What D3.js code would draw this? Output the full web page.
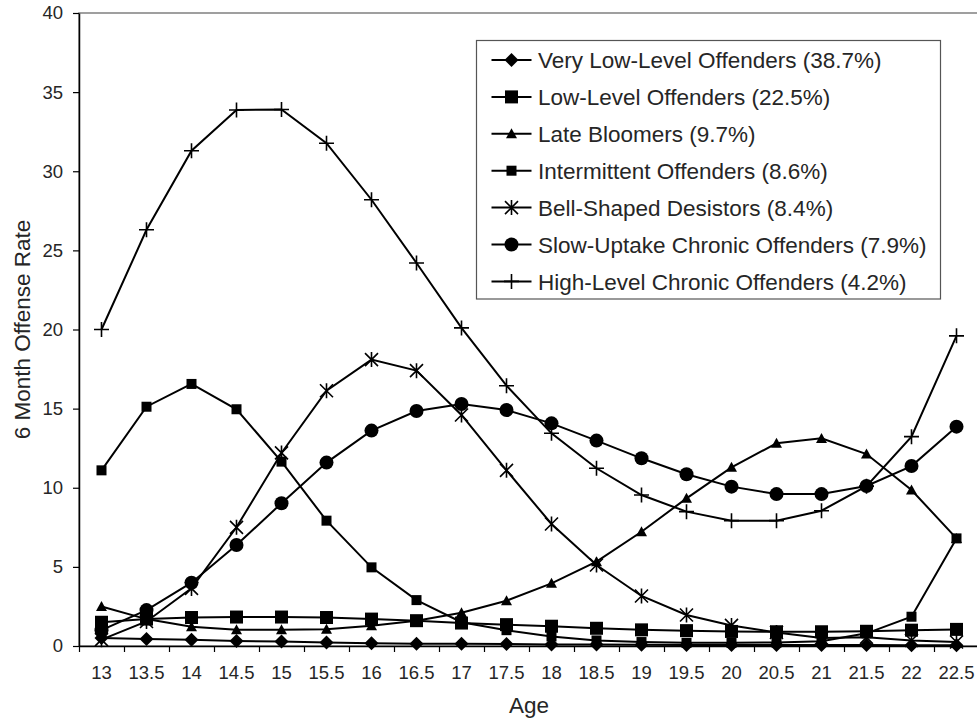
<!DOCTYPE html>
<html>
<head>
<meta charset="utf-8">
<script src="https://cdn.jsdelivr.net/npm/d3@7"></script>
<style>
  body { margin: 0; background: #fff; }
  svg { display: block; font-family: "Liberation Sans", Arial, sans-serif; }
</style>
</head>
<body>
<svg id="chart" width="977" height="722"></svg>
<script>
// Ages (category axis)
const ages = ['13', '13.5', '14', '14.5', '15', '15.5', '16', '16.5', '17', '17.5',
  '18', '18.5', '19', '19.5', '20', '20.5', '21', '21.5', '22', '22.5'];

// 6 month offense rate per trajectory group
const veryLow = [0.5, 0.45, 0.4, 0.32, 0.28, 0.22, 0.18, 0.15, 0.14, 0.12,
  0.1, 0.09, 0.08, 0.07, 0.07, 0.06, 0.06, 0.06, 0.05, 0.05];
const lowLevel = [1.5, 1.7, 1.8, 1.83, 1.83, 1.8, 1.7, 1.6, 1.45, 1.35,
  1.25, 1.12, 1.02, 0.97, 0.92, 0.9, 0.9, 0.93, 1.0, 1.05];
const lateBloomers = [2.5, 1.7, 1.22, 1.02, 1.02, 1.06, 1.28, 1.6, 2.1, 2.86,
  3.96, 5.33, 7.22, 9.33, 11.29, 12.81, 13.12, 12.13, 9.86, 6.8];
const intermittent = [11.1, 15.12, 16.56, 14.96, 11.65, 7.92, 4.97, 2.9, 1.5, 1.0,
  0.6, 0.35, 0.25, 0.2, 0.2, 0.22, 0.3, 0.8, 1.85, 6.8];
const bellShaped = [0.4, 1.55, 3.64, 7.5, 12.2, 16.13, 18.1, 17.4, 14.6, 11.1,
  7.71, 5.12, 3.16, 1.96, 1.3, 0.85, 0.5, 0.55, 0.35, 0.25];
const slowUptake = [1.0, 2.27, 4.0, 6.38, 9.02, 11.59, 13.61, 14.85, 15.29, 14.91,
  14.07, 12.98, 11.86, 10.85, 10.07, 9.6, 9.6, 10.11, 11.37, 13.86];
const highLevel = [20.0, 26.3, 31.3, 33.87, 33.9, 31.77, 28.2, 24.2, 20.1, 16.45,
  13.44, 11.23, 9.54, 8.49, 7.92, 7.92, 8.55, 10.1, 13.23, 19.6];

const yTicks = [0, 5, 10, 15, 20, 25, 30, 35, 40];

const series = [
  { name: 'Very Low-Level Offenders (38.7%)', values: veryLow, marker: 'diamond' },
  { name: 'Low-Level Offenders (22.5%)', values: lowLevel, marker: 'bigSquare' },
  { name: 'Late Bloomers (9.7%)', values: lateBloomers, marker: 'triangle' },
  { name: 'Intermittent Offenders (8.6%)', values: intermittent, marker: 'smallSquare' },
  { name: 'Bell-Shaped Desistors (8.4%)', values: bellShaped, marker: 'asterisk' },
  { name: 'Slow-Uptake Chronic Offenders (7.9%)', values: slowUptake, marker: 'circle' },
  { name: 'High-Level Chronic Offenders (4.2%)', values: highLevel, marker: 'plus' }
];

const margin = { left: 79, right: 979, top: 13, bottom: 646 };
const svg = d3.select('#chart');

const x = d3.scaleBand().domain(ages).range([margin.left, margin.right]).padding(0);
const xEdge = d3.scaleLinear().domain([0, ages.length]).range([margin.left, margin.right]);
const y = d3.scaleLinear().domain([0, 40]).range([margin.bottom, margin.top]);
const cx = d => x(d) + x.bandwidth() / 2;

// Marker drawing
function drawMarker(g, type) {
  switch (type) {
    case 'diamond':
      g.append('path').attr('d', 'M0,-7L7,0L0,7L-7,0Z').attr('fill', '#000');
      break;
    case 'bigSquare':
      g.append('rect').attr('x', -6.5).attr('y', -6.5).attr('width', 13).attr('height', 13).attr('fill', '#000');
      break;
    case 'smallSquare':
      g.append('rect').attr('x', -5).attr('y', -5).attr('width', 10).attr('height', 10).attr('fill', '#000');
      break;
    case 'triangle':
      g.append('path').attr('d', 'M0,-5.5L5.5,4.5L-5.5,4.5Z').attr('fill', '#000');
      break;
    case 'circle':
      g.append('circle').attr('r', 7).attr('fill', '#000');
      break;
    case 'asterisk':
      g.append('path').attr('d', 'M-6.5,-6.5L6.5,6.5M-6.5,6.5L6.5,-6.5M0,-7.5L0,7.5')
        .attr('stroke', '#000').attr('stroke-width', 1.6).attr('fill', 'none');
      break;
    case 'plus':
      g.append('path').attr('d', 'M-7.5,0L7.5,0M0,-7.5L0,7.5')
        .attr('stroke', '#000').attr('stroke-width', 1.6).attr('fill', 'none');
      break;
  }
}

// Plot area border (gray)
svg.append('rect')
  .attr('x', margin.left).attr('y', margin.top)
  .attr('width', margin.right - margin.left).attr('height', margin.bottom - margin.top)
  .attr('fill', 'none').attr('stroke', '#808080').attr('stroke-width', 1.5);

// Y axis
const yAxis = svg.append('g')
  .attr('transform', `translate(${margin.left},0)`)
  .call(d3.axisLeft(y).tickValues(yTicks).tickSize(6).tickPadding(10).tickSizeOuter(0));
yAxis.select('.domain').attr('stroke', '#000').attr('stroke-width', 1.5);
yAxis.selectAll('.tick line').attr('stroke', '#000').attr('stroke-width', 1.2);
yAxis.selectAll('text').attr('font-size', '18.5px').attr('fill', '#262626')
  .attr('font-family', '"Liberation Sans", Arial, sans-serif');

// X axis: labels at category centres, ticks at category edges
const xAxis = svg.append('g')
  .attr('transform', `translate(0,${margin.bottom})`)
  .call(d3.axisBottom(x).tickSize(0).tickPadding(20).tickSizeOuter(0));
xAxis.select('.domain').attr('stroke', '#000').attr('stroke-width', 1.5);
xAxis.selectAll('text').attr('font-size', '18.5px').attr('fill', '#262626')
  .attr('font-family', '"Liberation Sans", Arial, sans-serif');

const xTicks = svg.append('g')
  .attr('transform', `translate(0,${margin.bottom})`)
  .call(d3.axisBottom(xEdge).tickValues(d3.range(0, ages.length + 1)).tickSize(6).tickFormat('').tickSizeOuter(0));
xTicks.select('.domain').remove();
xTicks.selectAll('.tick line').attr('stroke', '#000').attr('stroke-width', 1.2);

// Axis titles
svg.append('text')
  .attr('x', (margin.left + margin.right) / 2)
  .attr('y', 713)
  .attr('text-anchor', 'middle')
  .attr('font-size', '22.5px')
  .attr('fill', '#262626')
  .text('Age');

svg.append('text')
  .attr('transform', `translate(30,${(margin.top + margin.bottom) / 2}) rotate(-90)`)
  .attr('text-anchor', 'middle')
  .attr('font-size', '22.5px')
  .attr('fill', '#262626')
  .text('6 Month Offense Rate');

// Series lines and markers
const line = d3.line()
  .x((d, i) => cx(ages[i]))
  .y(d => y(d));

series.forEach(s => {
  const g = svg.append('g').attr('class', 'series');
  g.append('path')
    .datum(s.values)
    .attr('d', line)
    .attr('fill', 'none')
    .attr('stroke', '#000')
    .attr('stroke-width', 2);
  g.selectAll('.marker')
    .data(s.values)
    .enter()
    .append('g')
    .attr('class', 'marker')
    .attr('transform', (d, i) => `translate(${cx(ages[i])},${y(d)})`)
    .each(function() { drawMarker(d3.select(this), s.marker); });
});

// Legend
const legend = svg.append('g').attr('class', 'legend');
legend.append('rect')
  .attr('x', 476.5).attr('y', 40.5)
  .attr('width', 464).attr('height', 258.5)
  .attr('fill', '#fff').attr('stroke', '#555').attr('stroke-width', 1.2);

series.forEach((s, i) => {
  const rowY = 60 + i * 36.9;
  const row = legend.append('g').attr('transform', `translate(0,${rowY})`);
  row.append('line')
    .attr('x1', 491.5).attr('x2', 531.5)
    .attr('y1', 0).attr('y2', 0)
    .attr('stroke', '#000').attr('stroke-width', 2);
  drawMarker(row.append('g').attr('transform', 'translate(511.5,0)'), s.marker);
  row.append('text')
    .attr('x', 538)
    .attr('y', 0)
    .attr('dy', '0.36em')
    .attr('font-size', '22.5px')
    .attr('fill', '#262626')
    .text(s.name);
});
</script>
</body>
</html>
